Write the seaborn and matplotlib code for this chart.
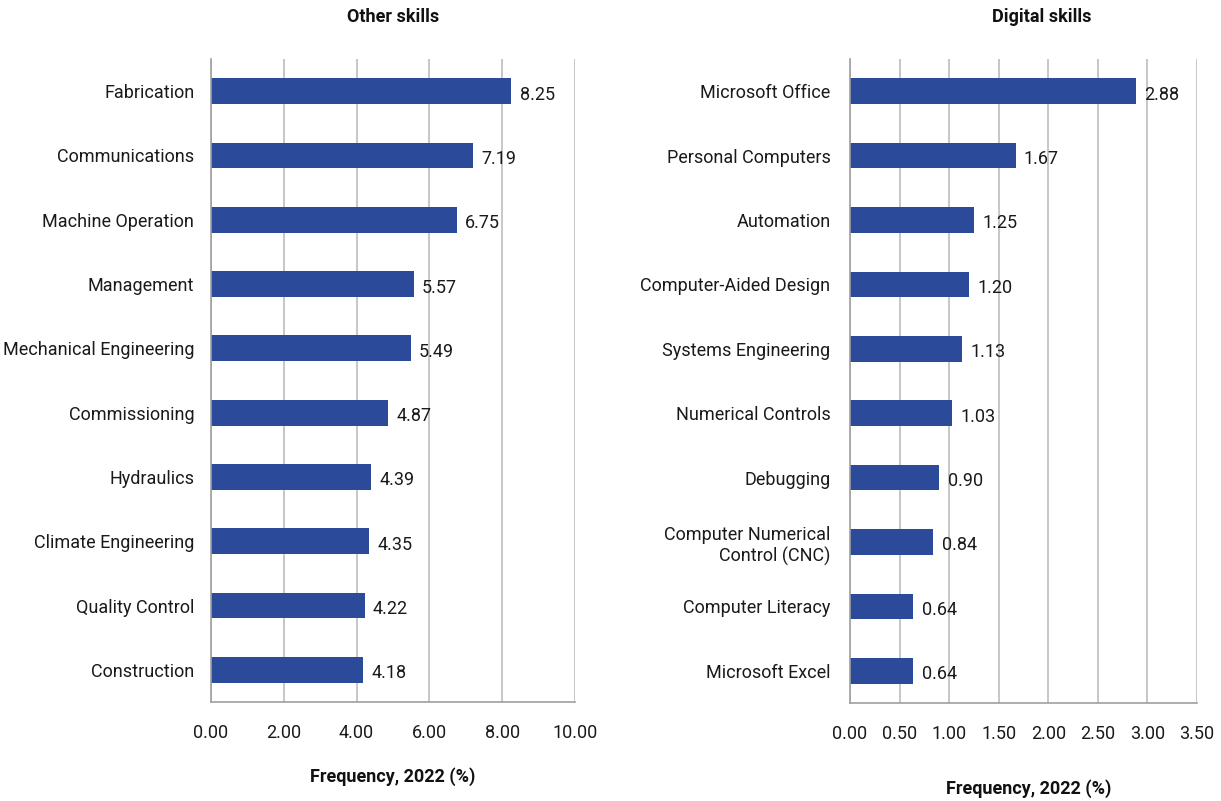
import matplotlib
matplotlib.use("Agg")
import matplotlib.pyplot as plt
import seaborn as sns
import pandas as pd
from matplotlib import font_manager

other_skills = ["Fabrication", "Communications", "Machine Operation", "Management",
                "Mechanical Engineering", "Commissioning", "Hydraulics",
                "Climate Engineering", "Quality Control", "Construction"]
other_values = [8.25, 7.19, 6.75, 5.57, 5.49, 4.87, 4.39, 4.35, 4.22, 4.18]

digital_skills = ["Microsoft Office", "Personal Computers", "Automation",
                  "Computer-Aided Design", "Systems Engineering", "Numerical Controls",
                  "Debugging", "Computer Numerical\nControl (CNC)", "Computer Literacy",
                  "Microsoft Excel"]
digital_values = [2.88, 1.67, 1.25, 1.20, 1.13, 1.03, 0.90, 0.84, 0.64, 0.64]

left_ticks = [0, 2, 4, 6, 8, 10]
right_ticks = [0, 0.5, 1.0, 1.5, 2.0, 2.5, 3.0, 3.5]

sns.set_theme(style="white")
names = {f.name for f in font_manager.fontManager.ttflist}
fam = [f for f in ["Liberation Sans Narrow", "Roboto", "DejaVu Sans"] if f in names]
plt.rcParams["font.family"] = fam

BAR = "#2B4A9A"
GRID = "#BDBDBD"
FS = 13

fig = plt.figure(figsize=(12.21, 8.01), dpi=100)
W, H = 1221, 801
axL = fig.add_axes([211 / W, (H - 702) / H, 364 / W, 643 / H])
axR = fig.add_axes([850 / W, (H - 703) / H, 347 / W, 644 / H])

def draw(ax, cats, vals, ticks, xmax, title, title_x, xlabel_pad, ylab_pad):
    df = pd.DataFrame({"skill": cats, "value": vals})
    sns.barplot(data=df, x="value", y="skill", color=BAR, width=0.4, ax=ax,
                saturation=1, orient="h", linewidth=0, edgecolor="none")
    ax.set_xlim(0, xmax)
    ax.set_ylim(len(cats) - 0.5, -0.5)
    ax.set_xticks(ticks)
    ax.set_xticklabels([f"{t:.2f}" for t in ticks], fontsize=FS, color="#1a1a1a")
    ax.tick_params(axis="x", length=0, pad=16)
    ax.tick_params(axis="y", length=0, pad=ylab_pad, labelsize=FS, labelcolor="#1a1a1a")
    for lab in ax.get_yticklabels():
        lab.set_horizontalalignment("right")
        lab.set_multialignment("right")
    ax.set_axisbelow(True)
    ax.xaxis.grid(True, color=GRID, linewidth=1.2)
    ax.yaxis.grid(False)
    for s in ["top", "right"]:
        ax.spines[s].set_visible(False)
    for s in ["left", "bottom"]:
        ax.spines[s].set_color("#A0A0A0")
        ax.spines[s].set_linewidth(1.2)
    ax.set_ylabel("")
    ax.set_xlabel("Frequency, 2022 (%)", fontsize=FS, fontweight="bold",
                  labelpad=xlabel_pad, color="#111111")
    for c in ax.containers:
        anns = ax.bar_label(c, fmt="%.2f", padding=6, fontsize=FS, color="#1a1a1a")
        for a in anns:
            a.xyann = (6, -2.5)
    ax.text(title_x, 1.0, title, transform=ax.transAxes, ha="center", va="bottom",
            fontsize=FS, fontweight="bold", color="#111111")

draw(axL, other_skills, other_values, left_ticks, 10, "Other skills", 0.5, 18, 12)
axL.texts[-1].set_position((0.5, 1.0 + 33 / 643))
draw(axR, digital_skills, digital_values, right_ticks, 3.5, "Digital skills",
     (1042 - 850) / 347, 26, 14)
axR.texts[-1].set_position(((1042 - 850) / 347, 1.0 + 33 / 644))
axR.xaxis.label.set_x((1029 - 850) / 347)

fig.savefig("out.png", dpi=100)
